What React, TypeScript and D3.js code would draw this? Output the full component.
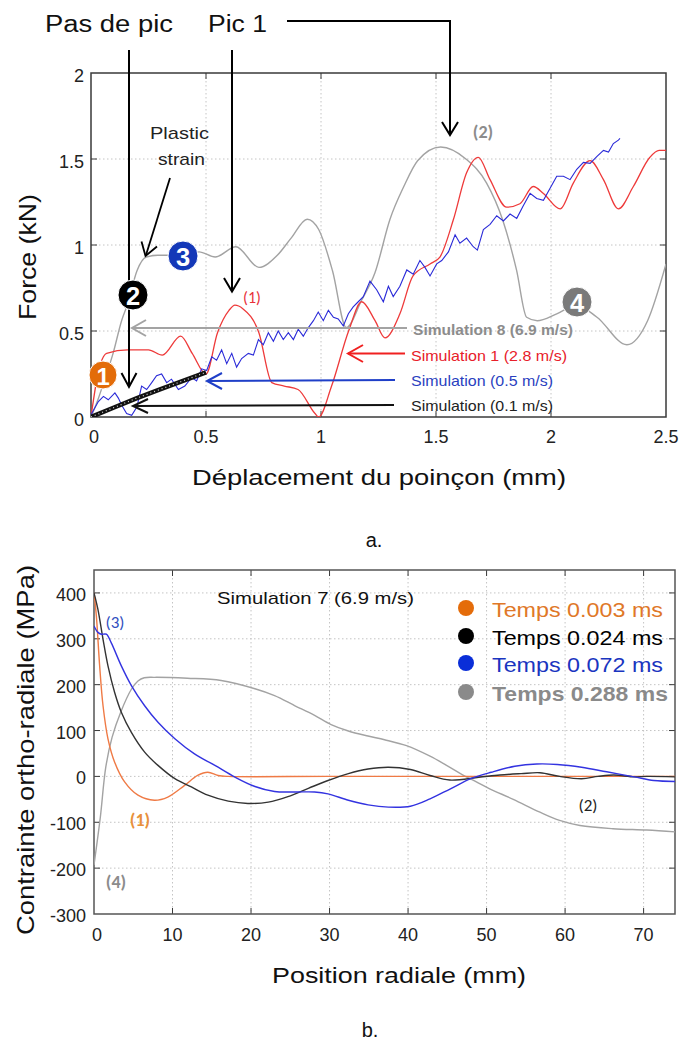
import React from "react";
import * as d3 from "d3";

// ---------- Chart a: Force vs displacement ----------
const topTicksX = [0, 0.5, 1, 1.5, 2, 2.5];
const topTicksY = [0, 0.5, 1, 1.5, 2];

const sim8X = [0, 0.03, 0.06, 0.096, 0.133, 0.16, 0.2, 0.24, 0.29, 0.38, 0.47, 0.54, 0.63, 0.73, 0.81, 0.87, 0.94, 0.99, 1.05, 1.11, 1.177, 1.235, 1.3, 1.36, 1.42, 1.52, 1.63, 1.72, 1.79, 1.85, 1.894, 1.94, 2.025, 2.11, 2.2, 2.33, 2.42, 2.5];
const sim8Y = [0, 0.1, 0.22, 0.37, 0.56, 0.66, 0.85, 0.93, 0.94, 0.94, 0.96, 0.93, 0.99, 0.87, 0.94, 1.04, 1.15, 1.09, 0.85, 0.52, 0.68, 0.84, 1.15, 1.34, 1.49, 1.57, 1.5, 1.36, 1.145, 0.855, 0.58, 0.56, 0.6, 0.65, 0.58, 0.42, 0.56, 0.89];

const sim1X = [0, 0.03, 0.068, 0.16, 0.25, 0.31, 0.39, 0.44, 0.5, 0.55, 0.6, 0.626, 0.66, 0.73, 0.786, 0.84, 0.9, 0.974, 0.99, 1.046, 1.12, 1.177, 1.235, 1.278, 1.343, 1.4, 1.474, 1.517, 1.575, 1.633, 1.684, 1.735, 1.807, 1.865, 1.923, 1.967, 2.04, 2.097, 2.17, 2.228, 2.293, 2.358, 2.43, 2.47, 2.5];
const sim1Y = [0, 0.25, 0.37, 0.39, 0.39, 0.36, 0.47, 0.37, 0.25, 0.49, 0.62, 0.65, 0.63, 0.49, 0.2, 0.18, 0.16, 0.02, 0, 0.18, 0.5, 0.67, 0.56, 0.46, 0.6, 0.82, 0.89, 0.93, 1.145, 1.42, 1.51, 1.38, 1.22, 1.24, 1.34, 1.3, 1.21, 1.36, 1.49, 1.38, 1.21, 1.34, 1.51, 1.55, 1.55];

const sim05X = [0, 0.003, 0.032, 0.054, 0.075, 0.104, 0.119, 0.133, 0.155, 0.177, 0.2, 0.22, 0.242, 0.264, 0.285, 0.307, 0.329, 0.35, 0.38, 0.408, 0.438, 0.459, 0.481, 0.503, 0.525, 0.546, 0.568, 0.59, 0.612, 0.633, 0.655, 0.684, 0.706, 0.728, 0.749, 0.771, 0.793, 0.814, 0.836, 0.858, 0.88, 0.901, 0.923, 0.945, 0.967, 0.988, 1.01, 1.032, 1.054, 1.075, 1.097, 1.119, 1.14, 1.162, 1.184, 1.213, 1.242, 1.271, 1.293, 1.314, 1.343, 1.373, 1.401, 1.43, 1.452, 1.474, 1.503, 1.525, 1.554, 1.583, 1.604, 1.633, 1.662, 1.68, 1.706, 1.735, 1.764, 1.793, 1.822, 1.851, 1.88, 1.909, 1.938, 1.967, 1.996, 2.025, 2.054, 2.083, 2.112, 2.141, 2.17, 2.2, 2.228, 2.25, 2.271, 2.293, 2.3];
const sim05Y = [0, 0.02, 0.09, 0.12, 0.1, 0.14, 0.11, 0.07, 0.02, 0.01, 0.06, 0.18, 0.16, 0.2, 0.24, 0.25, 0.2, 0.22, 0.16, 0.18, 0.23, 0.21, 0.28, 0.27, 0.35, 0.33, 0.39, 0.31, 0.37, 0.29, 0.34, 0.37, 0.36, 0.45, 0.42, 0.49, 0.44, 0.5, 0.45, 0.49, 0.45, 0.51, 0.47, 0.52, 0.56, 0.61, 0.56, 0.62, 0.58, 0.57, 0.53, 0.6, 0.64, 0.67, 0.7, 0.79, 0.74, 0.67, 0.76, 0.7, 0.76, 0.855, 0.83, 0.91, 0.87, 0.82, 0.89, 0.91, 0.96, 1.06, 1.01, 1.04, 0.99, 0.97, 1.09, 1.12, 1.17, 1.14, 1.18, 1.155, 1.23, 1.3, 1.27, 1.26, 1.33, 1.4, 1.4, 1.38, 1.44, 1.48, 1.475, 1.515, 1.55, 1.54, 1.59, 1.61, 1.62];

const sim01X = [0, 0.1, 0.2, 0.3, 0.4, 0.5];
const sim01Y = [0, 0.055, 0.11, 0.16, 0.21, 0.26];

// ---------- Chart b: orthoradial stress vs radial position ----------
const botTicksX = [0, 10, 20, 30, 40, 50, 60, 70];
const botTicksY = [-300, -200, -100, 0, 100, 200, 300, 400];

const t003X = [0, 0.3, 0.72, 1.15, 1.78, 2.63, 3.9, 5.6, 7.7, 9.4, 11.5, 13.2, 14.5, 15.8, 17.1, 30, 50, 74];
const t003Y = [400, 350, 241, 154, 82, 31, -12, -41, -52, -45, -20, 2, 9, 2, 0, 0, 0, 0];

const t024X = [0, 0.5, 1.15, 1.78, 2.63, 3.48, 4.76, 6.45, 8.15, 10.3, 12.4, 14.5, 17.1, 19.6, 22.2, 24.7, 27.3, 29.8, 32.4, 34.9, 37.5, 40.3, 42.8, 45.3, 49, 51.7, 54.4, 56.8, 59.3, 62.1, 64.2, 66.2, 68.8, 70.4, 74];
const t024Y = [400, 364, 299, 241, 183, 140, 96, 53, 24, -5, -23, -41, -54, -59, -56, -44, -26, -9, 6, 16, 20, 15, 2, -8, -2, 3, 6, 8, 0, -5, 0, 3, -1, 0, -1];

const t072X = [0, 0.5, 0.93, 1.57, 2.2, 3.48, 4.76, 6.45, 8.15, 10.3, 12.8, 15.4, 17.9, 20.5, 23, 25.6, 28.1, 29.8, 32.4, 34.9, 37.5, 40.3, 42.8, 45.4, 48, 50.6, 53.6, 56.4, 59, 62.1, 65.3, 68.8, 71.3, 74];
const t072Y = [328, 314, 310, 310, 291, 241, 198, 154, 118, 82, 49, 24, -1, -22, -33, -34, -34, -38, -52, -62, -67, -65, -49, -27, -5, 9, 22, 27, 26, 20, 10, -1, -9, -11];

const t288X = [0, 0.8, 1.5, 2.3, 3.4, 4.76, 5.6, 6.4, 7.7, 11.9, 16.2, 20.5, 23, 25.6, 28.1, 30.2, 32.4, 34.9, 37, 39.8, 42.8, 44.9, 47, 48.7, 50.4, 53.4, 56.8, 59.3, 61.9, 66.1, 70.4, 74];
const t288Y = [-193, -90, 20, 85, 140, 190, 208, 215, 216, 214, 209, 191, 176, 154, 133, 113, 99, 88, 80, 67, 44, 24, 3, -12, -27, -50, -78, -96, -107, -114, -117, -121];

const legendLabels = ["Temps 0.003 ms", "Temps 0.024 ms", "Temps 0.072 ms", "Temps 0.288 ms"];

const FONT = "'Liberation Sans', Arial, Helvetica, sans-serif";
const FONT2 = "Carlito, Calibri, 'Liberation Sans', Arial, sans-serif";

const C_GRAY = "#a3a3a3";
const C_RED = "#ee3a3a";
const C_BLUE = "#2a2ad8";
const C_ORANGE = "#ef7a45";
const C_BLUE_B = "#3333e0";

function mkLine(xs: number[], ys: number[], sx: any, sy: any, curve: any) {
  return d3
    .line<number>()
    .x((_, i) => sx(xs[i]))
    .y((_, i) => sy(ys[i]))
    .curve(curve)(xs) as string;
}

function Head({ pts, color, w = 2 }: { pts: number[][]; color: string; w?: number }) {
  return (
    <polyline
      points={pts.map((p) => p.join(",")).join(" ")}
      fill="none"
      stroke={color}
      strokeWidth={w}
      strokeLinejoin="miter"
    />
  );
}

function Badge({ cx, cy, r, fill, label }: { cx: number; cy: number; r: number; fill: string; label: string }) {
  return (
    <g>
      <circle cx={cx} cy={cy} r={r} fill={fill} stroke="#fff" strokeWidth={1} />
      <text
        x={cx}
        y={cy + 1}
        textAnchor="middle"
        dominantBaseline="central"
        fontFamily={FONT}
        fontWeight="bold"
        fontSize={r * 1.7}
        fill="#fff"
      >
        {label}
      </text>
    </g>
  );
}

export default function App() {
  // scales chart a
  const xT = d3.scaleLinear().domain([0, 2.5]).range([91, 666]);
  const yT = d3.scaleLinear().domain([0, 2]).range([417, 73]);
  // scales chart b
  const xB = d3.scaleLinear().domain([0, 74]).range([94, 675]);
  const yB = d3.scaleLinear().domain([-300, 450]).range([914, 570]);

  const gridStyle = { stroke: "#c4c4c4", strokeWidth: 1, strokeDasharray: "1.5,2.5" };
  const axisColor = "#3a3a3a";

  const smooth = d3.curveCatmullRom.alpha(0.5);

  const pSim8 = mkLine(sim8X, sim8Y, xT, yT, d3.curveMonotoneX);
  const pSim1 = mkLine(sim1X, sim1Y, xT, yT, d3.curveMonotoneX);
  const pSim05 = mkLine(sim05X, sim05Y, xT, yT, d3.curveLinear);
  const pSim01 = mkLine(sim01X, sim01Y, xT, yT, d3.curveLinear);

  const p003 = mkLine(t003X, t003Y, xB, yB, smooth);
  const p024 = mkLine(t024X, t024Y, xB, yB, smooth);
  const p072 = mkLine(t072X, t072Y, xB, yB, smooth);
  const p288 = mkLine(t288X, t288Y, xB, yB, smooth);

  const legendCircle = ["#e46c0a", "#000000", "#0a2ed8", "#8a8a8a"];
  const legendText = ["#e07828", "#000000", "#1a35c0", "#8a8a8a"];
  const legendY = [608, 636, 663, 692];
  const legendLen = [171, 171, 171, 176];

  return (
    <svg
      width={684}
      height={1045}
      style={{ position: "absolute", left: 0, top: 0, background: "#fff" }}
      fontFamily={FONT}
    >
      <defs>
        <clipPath id="clipT">
          <rect x={91} y={73} width={575} height={344} />
        </clipPath>
        <clipPath id="clipB">
          <rect x={94} y={570} width={581} height={344} />
        </clipPath>
      </defs>
      <rect x={0} y={0} width={684} height={1045} fill="#fff" />

      {/* ================= Chart a ================= */}
      {topTicksX.slice(1, -1).map((t) => (
        <line key={"gx" + t} x1={xT(t)} x2={xT(t)} y1={73} y2={417} {...gridStyle} />
      ))}
      {topTicksY.slice(1, -1).map((t) => (
        <line key={"gy" + t} x1={91} x2={666} y1={yT(t)} y2={yT(t)} {...gridStyle} />
      ))}
      {topTicksX.slice(1, -1).map((t) => (
        <g key={"tx" + t}>
          <line x1={xT(t)} x2={xT(t)} y1={417} y2={411} stroke={axisColor} />
          <line x1={xT(t)} x2={xT(t)} y1={73} y2={79} stroke={axisColor} />
        </g>
      ))}
      {topTicksY.slice(1, -1).map((t) => (
        <g key={"ty" + t}>
          <line x1={91} x2={97} y1={yT(t)} y2={yT(t)} stroke={axisColor} />
          <line x1={666} x2={660} y1={yT(t)} y2={yT(t)} stroke={axisColor} />
        </g>
      ))}
      <rect x={91} y={73} width={575} height={344} fill="none" stroke={axisColor} strokeWidth={1.5} />

      {topTicksX.map((t) => (
        <text key={"lx" + t} x={xT(t) + (t === 0 ? 3 : 0)} y={437} textAnchor="middle" dominantBaseline="central" fontSize={18} fill="#222">
          {t}
        </text>
      ))}
      {topTicksY.map((t) => (
        <text key={"ly" + t} x={84} y={yT(t) + 3} textAnchor="end" dominantBaseline="central" fontSize={18} fill="#222">
          {t}
        </text>
      ))}

      <g clipPath="url(#clipT)">
        <path d={pSim8} fill="none" stroke={C_GRAY} strokeWidth={1.4} />
        <path d={pSim1} fill="none" stroke={C_RED} strokeWidth={1.3} />
        <path d={pSim05} fill="none" stroke={C_BLUE} strokeWidth={1.1} />
        <path d={pSim01} fill="none" stroke="#111" strokeWidth={4.5} />
        <path d={pSim01} fill="none" stroke="#d8d8d8" strokeWidth={1.2} strokeDasharray="1,3" />
      </g>

      {/* legend arrows */}
      <line x1={132} x2={407} y1={328} y2={328} stroke={C_GRAY} strokeWidth={2} />
      <Head pts={[[146, 320], [132, 328], [146, 336]]} color={C_GRAY} />
      <text x={413} y={329} dominantBaseline="central" fontSize={15} fontWeight="bold" fill="#8c8c8c" textLength={160} lengthAdjust="spacingAndGlyphs">
        Simulation 8 (6.9 m/s)
      </text>

      <line x1={348} x2={405} y1={353.5} y2={353.5} stroke="#f02020" strokeWidth={2} />
      <Head pts={[[363, 345], [348, 353.5], [363, 362]]} color="#f02020" />
      <text x={411} y={355} dominantBaseline="central" fontSize={15} fill="#e8202a" textLength={156} lengthAdjust="spacingAndGlyphs">
        Simulation 1 (2.8 m/s)
      </text>

      <line x1={207} x2={395} y1={381} y2={380} stroke="#1f3fc8" strokeWidth={2} />
      <Head pts={[[222, 373], [207, 381], [222, 389]]} color="#1f3fc8" />
      <text x={411} y={380} dominantBaseline="central" fontSize={15} fill="#2a3fc0" textLength={142} lengthAdjust="spacingAndGlyphs">
        Simulation (0.5 m/s)
      </text>

      <line x1={133} x2={394} y1={406} y2={405} stroke="#111" strokeWidth={2} />
      <Head pts={[[148, 399], [133, 406], [148, 413]]} color="#111" />
      <text x={411} y={405} dominantBaseline="central" fontSize={15} fill="#222" textLength={142} lengthAdjust="spacingAndGlyphs">
        Simulation (0.1 m/s)
      </text>

      {/* callout arrows */}
      <line x1={129} x2={129} y1={50} y2={387} stroke="#000" strokeWidth={2} />
      <Head pts={[[121.5, 373], [129, 387], [136.5, 373]]} color="#000" />
      <line x1={232} x2={232} y1={50} y2={291} stroke="#000" strokeWidth={2} />
      <Head pts={[[224, 278], [232, 291.5], [240, 278]]} color="#000" />
      <polyline points="287,21 450,21 450,135" fill="none" stroke="#000" strokeWidth={2} />
      <Head pts={[[442, 122], [450, 135], [458, 122]]} color="#000" />
      <line x1={170} x2={146} y1={178} y2={255} stroke="#000" strokeWidth={1.8} />
      <Head pts={[[141.5, 241.5], [145.5, 256], [157, 246.5]]} color="#000" w={1.8} />

      <text x={45} y={32} fontSize={23} fill="#111" textLength={128} lengthAdjust="spacingAndGlyphs">
        Pas de pic
      </text>
      <text x={208} y={32} fontSize={23} fill="#111" textLength={59} lengthAdjust="spacingAndGlyphs">
        Pic 1
      </text>
      <text x={179.5} y={139} textAnchor="middle" fontSize={17} fill="#222" textLength={59} lengthAdjust="spacingAndGlyphs">
        Plastic
      </text>
      <text x={181.5} y={165} textAnchor="middle" fontSize={17} fill="#222" textLength={47} lengthAdjust="spacingAndGlyphs">
        strain
      </text>
      <text x={252} y={297} textAnchor="middle" dominantBaseline="central" fontSize={16} fontFamily={FONT2} fill="#e8303a">
        (1)
      </text>
      <text x={483} y={132} textAnchor="middle" dominantBaseline="central" fontSize={18} fontWeight="bold" fontFamily={FONT2} fill="#8c8c8c">
        (2)
      </text>

      <Badge cx={103} cy={375} r={14} fill="#e36c09" label="1" />
      <Badge cx={133} cy={295} r={15} fill="#000" label="2" />
      <Badge cx={183} cy={256} r={15} fill="#1438b8" label="3" />
      <Badge cx={577} cy={302} r={15} fill="#7a7a7a" label="4" />

      <text transform="translate(27,257) rotate(-90)" textAnchor="middle" dominantBaseline="central" fontSize={24} fill="#111" textLength={126} lengthAdjust="spacingAndGlyphs">
        Force (kN)
      </text>
      <text x={379} y={477} textAnchor="middle" dominantBaseline="central" fontSize={22} fill="#111" textLength={374} lengthAdjust="spacingAndGlyphs">
        Déplacement du poinçon (mm)
      </text>
      <text x={374} y={540} textAnchor="middle" dominantBaseline="central" fontSize={20} fill="#111">
        a.
      </text>

      {/* ================= Chart b ================= */}
      {botTicksX.slice(1).map((t) => (
        <line key={"bgx" + t} x1={xB(t)} x2={xB(t)} y1={570} y2={914} {...gridStyle} />
      ))}
      {botTicksY.slice(1).map((t) => (
        <line key={"bgy" + t} x1={94} x2={675} y1={yB(t)} y2={yB(t)} {...gridStyle} />
      ))}
      {botTicksX.slice(1).map((t) => (
        <g key={"btx" + t}>
          <line x1={xB(t)} x2={xB(t)} y1={914} y2={908} stroke={axisColor} />
          <line x1={xB(t)} x2={xB(t)} y1={570} y2={576} stroke={axisColor} />
        </g>
      ))}
      {botTicksY.slice(1).map((t) => (
        <g key={"bty" + t}>
          <line x1={94} x2={100} y1={yB(t)} y2={yB(t)} stroke={axisColor} />
          <line x1={675} x2={669} y1={yB(t)} y2={yB(t)} stroke={axisColor} />
        </g>
      ))}
      <rect x={94} y={570} width={581} height={344} fill="none" stroke="#555" strokeWidth={1.5} />

      {botTicksX.map((t) => (
        <text key={"blx" + t} x={xB(t) + (t === 0 ? 3 : 0)} y={935} textAnchor="middle" dominantBaseline="central" fontSize={18} fill="#222">
          {t}
        </text>
      ))}
      {botTicksY.map((t) => (
        <text key={"bly" + t} x={86} y={yB(t) + 2} textAnchor="end" dominantBaseline="central" fontSize={18} fill="#222">
          {t}
        </text>
      ))}

      <g clipPath="url(#clipB)">
        <path d={p288} fill="none" stroke={C_GRAY} strokeWidth={1.4} />
        <path d={p003} fill="none" stroke={C_ORANGE} strokeWidth={1.4} />
        <path d={p024} fill="none" stroke="#333" strokeWidth={1.4} />
        <path d={p072} fill="none" stroke={C_BLUE_B} strokeWidth={1.4} />
      </g>

      <text x={217} y={598} dominantBaseline="central" fontSize={17} fill="#111" textLength={197} lengthAdjust="spacingAndGlyphs">
        Simulation 7 (6.9 m/s)
      </text>

      {legendLabels.map((l, i) => (
        <g key={l}>
          <circle cx={466} cy={legendY[i]} r={8} fill={legendCircle[i]} />
          <text
            x={492}
            y={legendY[i] + 1}
            dominantBaseline="central"
            fontSize={21}
            fontWeight={i === 3 ? "bold" : "normal"}
            fill={legendText[i]}
            textLength={legendLen[i]}
            lengthAdjust="spacingAndGlyphs"
          >
            {l}
          </text>
        </g>
      ))}

      <text x={115} y={622} textAnchor="middle" dominantBaseline="central" fontSize={17} fontFamily={FONT2} fill="#3050c0">
        (3)
      </text>
      <text x={140} y={820} textAnchor="middle" dominantBaseline="central" fontSize={18} fontWeight="bold" fontFamily={FONT2} fill="#e8903a">
        (1)
      </text>
      <text x={116} y={882} textAnchor="middle" dominantBaseline="central" fontSize={18} fontWeight="bold" fontFamily={FONT2} fill="#8c8c8c">
        (4)
      </text>
      <text x={588} y={805} textAnchor="middle" dominantBaseline="central" fontSize={17} fontFamily={FONT2} fill="#222">
        (2)
      </text>

      <text transform="translate(25,750) rotate(-90)" textAnchor="middle" dominantBaseline="central" fontSize={24} fill="#111" textLength={370} lengthAdjust="spacingAndGlyphs">
        Contrainte ortho-radiale (MPa)
      </text>
      <text x={399} y={975} textAnchor="middle" dominantBaseline="central" fontSize={22} fill="#111" textLength={254} lengthAdjust="spacingAndGlyphs">
        Position radiale (mm)
      </text>
      <text x={370} y={1030} textAnchor="middle" dominantBaseline="central" fontSize={20} fill="#111">
        b.
      </text>
    </svg>
  );
}
